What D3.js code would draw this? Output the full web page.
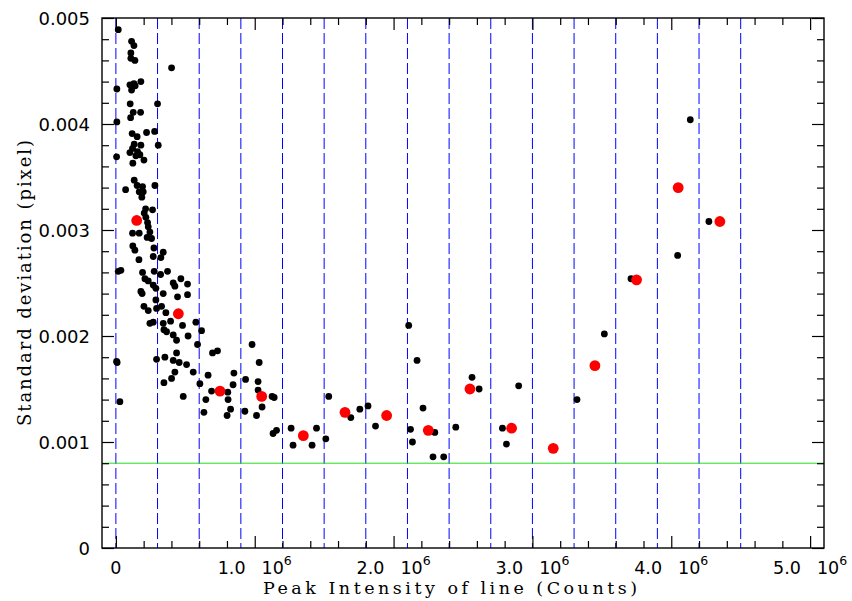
<!DOCTYPE html>
<html>
<head>
<meta charset="utf-8">
<script src="https://cdn.jsdelivr.net/npm/d3@7"></script>
<style>
  body { margin: 0; background: #fff; }
  svg { display: block; }
</style>
</head>
<body>
<div id="chart"></div>
<script>
// single lines: [peak intensity (counts), standard deviation (pixel)]
const linePoints = [
  [17000,0.00489],[113000,0.00478],[130000,0.00474],[108000,0.00467],[108000,0.00462],[137000,0.00460],
  [401000,0.00453],[7000,0.00433],[101000,0.00437],[130000,0.00438],[180000,0.00440],[113000,0.00432],
  [139000,0.00436],[103000,0.00419],[300000,0.00419],[125000,0.00411],[178000,0.00411],[106000,0.00406],
  [7000,0.00402],[117000,0.00391],[153000,0.00388],[221000,0.00392],[279000,0.00393],[305000,0.00380],
  [132000,0.00381],[180000,0.00380],[120000,0.00377],[101000,0.00373],[156000,0.00374],[173000,0.00371],
  [202000,0.00366],[5000,0.00369],[122000,0.00363],[144000,0.00370],
  [132000,0.00347],[70000,0.00338],[153000,0.00342],[192000,0.00341],[281000,0.00342],[168000,0.00336],
  [197000,0.00336],[187000,0.00331],[214000,0.00320],[264000,0.00319],[204000,0.00316],[228000,0.00307],
  [233000,0.00303],[120000,0.00297],[168000,0.00297],[225000,0.00293],[257000,0.00292],[122000,0.00285],
  [137000,0.00281],[274000,0.00283],[341000,0.00279],[166000,0.00272],[269000,0.00275],[324000,0.00274],
  [17000,0.00261],[36000,0.00262],[192000,0.00260],[276000,0.00261],[322000,0.00258],[372000,0.00261],
  [209000,0.00254],[233000,0.00252],[269000,0.00248],[288000,0.00245],[413000,0.00250],[468000,0.00254],
  [425000,0.00247],[516000,0.00249],[180000,0.00242],[341000,0.00240],[444000,0.00237],[516000,0.00239],
  [189000,0.00240],[245000,0.00298],[216000,0.00312],
  [202000,0.00228],[233000,0.00224],[288000,0.00234],[293000,0.00226],[329000,0.00228],[360000,0.00222],
  [394000,0.00214],[269000,0.00213],[245000,0.00212],[341000,0.00212],[346000,0.00206],[365000,0.00204],
  [413000,0.00201],[437000,0.00196],[480000,0.00210],[520000,0.00200],[576000,0.00213],[617000,0.00205],
  [588000,0.00192],[293000,0.00178],[353000,0.00180],[413000,0.00177],[437000,0.00184],[456000,0.00175],
  [509000,0.00173],[557000,0.00166],[425000,0.00166],[401000,0.00160],[346000,0.00156],[664000,0.00163],
  [696000,0.00184],[732000,0.00186],[605000,0.00155],[689000,0.00148],[806000,0.00147],[844000,0.00154],
  [850000,0.00165],[648000,0.00140],[485000,0.00143],[808000,0.00140],[634000,0.00128],[826000,0.00131],
  [801000,0.00125],[981000,0.00192],[1032000,0.00175],[934000,0.00159],[1024000,0.00157],[1024000,0.00149],
  [1053000,0.00133],[929000,0.00129],[1013000,0.00125],
  [1125000,0.00143],[1140000,0.00142],[1132000,0.00108],[1157000,0.00111],[1262000,0.00113],[1276000,0.00097],
  [1413000,0.00097],[1445000,0.00113],[1512000,0.00103],[1533000,0.00143],[1692000,0.00123],[1757000,0.00131],
  [1816000,0.00134],[1870000,0.00115],[2109000,0.00210],[2169000,0.00177],[2212000,0.00132],[2122000,0.00112],
  [2136000,0.00100],[2297000,0.00109],[2284000,0.00086],[2361000,0.00086],[2448000,0.00114],[2565000,0.00161],
  [2616000,0.00150],[2901000,0.00153],[2784000,0.00113],[2813000,0.00098],[3321000,0.00140],[3518000,0.00202],
  [3710000,0.00254],[4046000,0.00276],[4137000,0.00404],[4271000,0.00308],
  [5000,0.00176],[9000,0.00175],[29000,0.00138]
];

// binned means (red)
const binCenters = [150000,450000,750000,1050000,1350000,1650000,1950000,2250000,2550000,2850000,
  3150000,3450000,3750000,4050000,4350000];
const binMeans = [0.00309,0.00221,0.00148,0.00143,0.00106,0.00128,0.00125,0.00111,0.00150,0.00113,
  0.00094,0.00172,0.00253,0.00340,0.00308];
const binEdges = [0,300000,600000,900000,1200000,1500000,1800000,2100000,2400000,2700000,3000000,
  3300000,3600000,3900000,4200000,4500000];
const refLevel = 0.0008;

const xMajor = [0,1000000,2000000,3000000,4000000,5000000];
const xLabels = ["0","1.0","2.0","3.0","4.0","5.0"];
const xMinor = [200000,400000,600000,800000,1200000,1400000,1600000,1800000,2200000,2400000,2600000,2800000,
  3200000,3400000,3600000,3800000,4200000,4400000,4600000,4800000];
const yMajor = [0,0.001,0.002,0.003,0.004,0.005];
const yLabels = ["0","0.001","0.002","0.003","0.004","0.005"];
const yMinor = [0.0002,0.0004,0.0006,0.0008,0.0012,0.0014,0.0016,0.0018,0.0022,0.0024,0.0026,0.0028,
  0.0032,0.0034,0.0036,0.0038,0.0042,0.0044,0.0046,0.0048];

const width = 852, height = 601;
const L = 102, R = 824, T = 18, B = 548;

const x = d3.scaleLinear().domain([-100000, 5100000]).range([L, R]);
const y = d3.scaleLinear().domain([0, 0.005]).range([B, T]);

const svg = d3.select("#chart").append("svg")
  .attr("width", width)
  .attr("height", height)
  .attr("viewBox", [0, 0, width, height]);

// bin edges
svg.append("g")
  .selectAll("line")
  .data(binEdges)
  .join("line")
  .attr("x1", d => x(d)).attr("x2", d => x(d))
  .attr("y1", T).attr("y2", B)
  .attr("stroke", "#0000ff")
  .attr("stroke-width", 1)
  .attr("stroke-dasharray", "11,4");

// reference level
svg.append("line")
  .attr("x1", L).attr("x2", R)
  .attr("y1", y(refLevel)).attr("y2", y(refLevel))
  .attr("stroke", "#22dd22")
  .attr("stroke-width", 1);

svg.append("g")
  .selectAll("circle")
  .data(linePoints)
  .join("circle")
  .attr("cx", d => x(d[0]))
  .attr("cy", d => y(d[1]))
  .attr("r", 3.4)
  .attr("fill", "#000");

svg.append("g")
  .selectAll("circle")
  .data(binCenters)
  .join("circle")
  .attr("cx", d => x(d))
  .attr("cy", (d, i) => y(binMeans[i]))
  .attr("r", 5.4)
  .attr("fill", "#ff0000");

// ticks, pointing inward on all four sides
function ticks(axis, vals, size, transform) {
  const g = svg.append("g")
    .attr("transform", transform)
    .call(axis.tickValues(vals).tickSize(-size).tickSizeOuter(0).tickFormat(""));
  g.select(".domain").remove();
  g.selectAll(".tick line").attr("stroke", "#000").attr("stroke-width", 1.2);
}
ticks(d3.axisBottom(x), xMajor, 12, `translate(0,${B})`);
ticks(d3.axisBottom(x), xMinor, 7, `translate(0,${B})`);
ticks(d3.axisTop(x), xMajor, 12, `translate(0,${T})`);
ticks(d3.axisTop(x), xMinor, 7, `translate(0,${T})`);
ticks(d3.axisLeft(y), yMajor, 12, `translate(${L},0)`);
ticks(d3.axisLeft(y), yMinor, 7, `translate(${L},0)`);
ticks(d3.axisRight(y), yMajor, 12, `translate(${R},0)`);
ticks(d3.axisRight(y), yMinor, 7, `translate(${R},0)`);

svg.append("rect")
  .attr("x", L).attr("y", T)
  .attr("width", R - L).attr("height", B - T)
  .attr("fill", "none")
  .attr("stroke", "#000")
  .attr("stroke-width", 1.4);

const tickFont = "DejaVu Sans, sans-serif";

// y labels
svg.append("g")
  .selectAll("text")
  .data(yMajor)
  .join("text")
  .attr("x", L - 12)
  .attr("y", d => y(d) + 6.5)
  .attr("text-anchor", "end")
  .attr("font-family", tickFont)
  .attr("font-size", 18)
  .text((d, i) => yLabels[i]);

// x labels with the 10^6 factor
const xl = svg.append("g")
  .selectAll("text")
  .data(xMajor)
  .join("text")
  .attr("x", d => x(d))
  .attr("y", B + 26)
  .attr("text-anchor", "middle")
  .attr("font-family", tickFont)
  .attr("font-size", 17.5);
xl.append("tspan").text((d, i) => xLabels[i]);
xl.filter(d => d !== 0).append("tspan").attr("dx", 16).text("10");
xl.filter(d => d !== 0).append("tspan").attr("dy", -9).attr("font-size", 12.5).text("6");

svg.append("text")
  .attr("x", 450)
  .attr("y", 594)
  .attr("text-anchor", "middle")
  .attr("font-family", "DejaVu Serif, serif")
  .attr("font-size", 17.5)
  .attr("textLength", 374)
  .attr("lengthAdjust", "spacing")
  .text("Peak Intensity of line (Counts)");

svg.append("text")
  .attr("transform", "translate(31,283) rotate(-90)")
  .attr("text-anchor", "middle")
  .attr("font-family", "DejaVu Serif, serif")
  .attr("font-size", 18)
  .attr("textLength", 286)
  .attr("lengthAdjust", "spacing")
  .text("Standard deviation (pixel)");
</script>
</body>
</html>
